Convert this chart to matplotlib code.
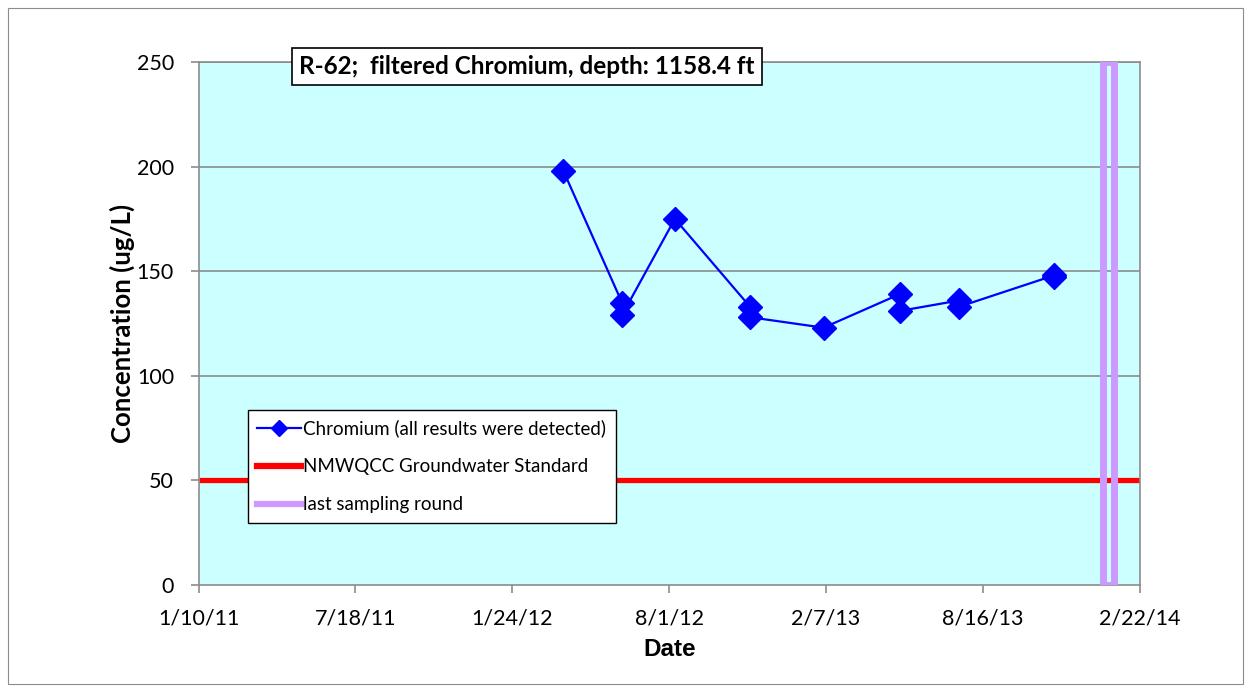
import matplotlib
matplotlib.use("Agg")
import matplotlib.pyplot as plt
import matplotlib.dates as mdates
from matplotlib.patches import Rectangle
from matplotlib.lines import Line2D
from datetime import datetime

# ---- data ----
dates = ["2012-03-26", "2012-06-05", "2012-06-05", "2012-08-08", "2012-11-07", "2012-11-07",
         "2013-02-04", "2013-05-07", "2013-05-07", "2013-07-18", "2013-07-18",
         "2013-11-10", "2013-11-10"]
chromium = [198, 135, 129, 175, 133, 128, 123, 139, 131, 136, 133, 148, 147]
standard = 50
last_round = "2014-01-15"
tick_dates = ["2011-01-10", "2011-07-18", "2012-01-24", "2012-08-01", "2013-02-07", "2013-08-16", "2014-02-22"]
tick_labels = ["1/10/11", "7/18/11", "1/24/12", "8/1/12", "2/7/13", "8/16/13", "2/22/14"]
y_ticks = [0, 50, 100, 150, 200, 250]

to_dt = lambda s: datetime.strptime(s, "%Y-%m-%d")
x = [to_dt(d) for d in dates]
xt = [to_dt(d) for d in tick_dates]

W, H = 1251, 692
fig = plt.figure(figsize=(W / 100, H / 100), dpi=100)
fig.patch.set_facecolor("white")
fig.add_artist(Rectangle((8 / W, 8 / H), 1 - 16 / W, 1 - 16 / H, transform=fig.transFigure,
                         fill=False, edgecolor="#8c8c8c", linewidth=0.8))

ax = fig.add_axes([199 / W, 1 - 585 / H, (1140 - 199) / W, (585 - 62) / H])
ax.set_facecolor("#CCFFFF")
ax.set_xlim(xt[0], xt[-1])
ax.set_ylim(0, 250)

for yv in y_ticks[1:]:
    ax.axhline(yv, color="#8c8c8c", linewidth=1.2, zorder=1)

ax.plot([xt[0], xt[-1]], [standard, standard], color="#FF0000", linewidth=3.8, zorder=2,
        solid_capstyle="butt")

lr = to_dt(last_round)
ax.add_patch(Rectangle((mdates.date2num(lr) - 6.5, 0), 13, 250, fill=False,
                       edgecolor="#CC99FF", linewidth=5, zorder=3))

ax.plot(x, chromium, color="#0000FF", linewidth=1.6, marker="D", markersize=12,
        markerfacecolor="#0000FF", markeredgecolor="#0000FF", zorder=4)

for s in ["top", "right", "left", "bottom"]:
    ax.spines[s].set_color("#8c8c8c")
    ax.spines[s].set_linewidth(1.2)

ax.set_xticks(xt)
ax.set_xticklabels(tick_labels)
ax.set_yticks(y_ticks)
ax.tick_params(axis="both", direction="out", length=6, color="#8c8c8c", width=1.2,
               labelsize=15.5)
ax.tick_params(axis="y", pad=12)
ax.tick_params(axis="x", pad=11)
for lab in ax.get_xticklabels() + ax.get_yticklabels():
    lab.set_fontfamily("Lato")

ax.set_xlabel("Date", fontsize=17.5, fontweight="bold", family="Liberation Sans", labelpad=7)
ax.set_ylabel("Concentration (ug/L)", fontsize=18.5, fontweight="bold", family="Lato", labelpad=1)

handles = [
    Line2D([], [], color="#0000FF", linewidth=1.6, marker="D", markersize=8,
           markerfacecolor="#0000FF", markeredgecolor="#0000FF"),
    Line2D([], [], color="#FF0000", linewidth=4.5),
    Line2D([], [], color="#CC99FF", linewidth=4.5),
]
labels = ["Chromium (all results were detected)", "NMWQCC Groundwater Standard", "last sampling round"]
leg = ax.legend(handles, labels,
                loc="upper left", bbox_to_anchor=((248 - 199) / 941, (585 - 410) / 523),
                prop={"family": "Lato", "size": 13.5}, frameon=True, fancybox=False,
                edgecolor="black", framealpha=1, borderpad=0.5, labelspacing=1.12,
                handlelength=2.3, handletextpad=0.15, borderaxespad=0)
leg.get_frame().set_linewidth(1.0)

fig.text(527 / W, 1 - 66.5 / H, "R-62;  filtered Chromium, depth: 1158.4 ft", ha="center", va="center",
         fontsize=17.5, fontweight="bold", family="Lato",
         bbox=dict(boxstyle="square,pad=0.3", facecolor="white", edgecolor="black", linewidth=1.2))

fig.savefig("out.png", dpi=100)
